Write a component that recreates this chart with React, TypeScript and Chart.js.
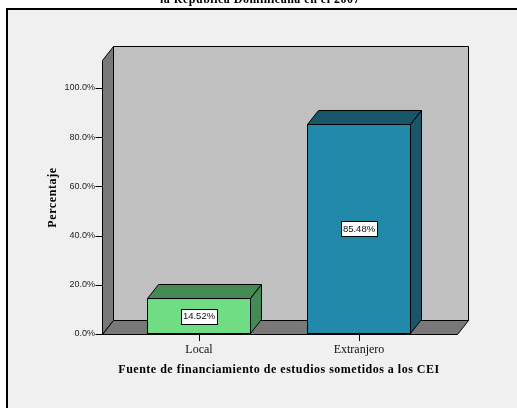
import { useEffect, useRef } from 'react';
import { Chart, registerables } from 'chart.js';

Chart.register(...registerables);

const categories = ['Local', 'Extranjero'];
const percentages = [14.52, 85.48];
const frontColors = ['#70dc84', '#2389ab'];
const darkColors = ['#448a54', '#19566a'];
const yTicks = [0, 20, 40, 60, 80, 100];
const topTitle = 'la República Dominicana en el 2007';
const xTitle = 'Fuente de financiamiento de estudios sometidos a los CEI';
const yTitle = 'Percentaje';

const WALL_MAX = 111.4;
const DX = 11;
const DY = 14;

function poly(ctx: CanvasRenderingContext2D, pts: number[][], fill: string) {
  ctx.beginPath();
  ctx.moveTo(pts[0][0], pts[0][1]);
  for (let i = 1; i < pts.length; i++) ctx.lineTo(pts[i][0], pts[i][1]);
  ctx.closePath();
  ctx.fillStyle = fill;
  ctx.fill();
  ctx.strokeStyle = '#000';
  ctx.lineWidth = 1;
  ctx.stroke();
}

const spssPlugin = {
  id: 'spss3d',
  beforeDraw(chart: any) {
    const { ctx, chartArea: a, scales } = chart;
    const y = scales.y;
    ctx.save();
    ctx.fillStyle = '#ffffff';
    ctx.fillRect(0, 0, chart.width, chart.height);
    // cut-off title
    ctx.fillStyle = '#000';
    ctx.font = 'bold 12px "Liberation Serif"';
    ctx.textAlign = 'center';
    ctx.textBaseline = 'alphabetic';
    (ctx as any).letterSpacing = '0.5px';
    ctx.fillText(topTitle, 260, 3);
    (ctx as any).letterSpacing = '0px';
    // outer box
    ctx.fillStyle = '#f0f0f0';
    ctx.fillRect(6, 8, 700, 700);
    ctx.fillStyle = '#000';
    ctx.fillRect(6, 8, 700, 2);
    ctx.fillRect(6, 8, 2, 700);

    const fl = a.left - 17 + 0.5;
    const fr = a.right + 18 + 0.5;
    const y0 = Math.round(y.getPixelForValue(0)) + 0.5;
    const yt = Math.round(y.getPixelForValue(WALL_MAX)) + 0.5;
    // back wall
    poly(ctx, [[fl + DX, yt - DY], [fr + DX, yt - DY], [fr + DX, y0 - DY], [fl + DX, y0 - DY]], '#c0c0c0');
    // left wall
    poly(ctx, [[fl, yt], [fl + DX, yt - DY], [fl + DX, y0 - DY], [fl, y0]], '#787878');
    // floor
    poly(ctx, [[fl, y0], [fl + DX, y0 - DY], [fr + DX, y0 - DY], [fr, y0]], '#787878');

    // y tick marks
    ctx.strokeStyle = '#000';
    ctx.lineWidth = 1;
    for (const v of yTicks) {
      const py = Math.round(y.getPixelForValue(v)) + 0.5;
      ctx.beginPath();
      ctx.moveTo(fl - 7, py);
      ctx.lineTo(fl, py);
      ctx.stroke();
    }

    // y title
    ctx.save();
    ctx.translate(53, (yt + y0) / 2);
    ctx.rotate(-Math.PI / 2);
    ctx.fillStyle = '#000';
    ctx.font = 'bold 12px "Liberation Serif"';
    ctx.textAlign = 'center';
    ctx.textBaseline = 'middle';
    (ctx as any).letterSpacing = '0.6px';
    ctx.fillText(yTitle, 0, 0);
    ctx.restore();

    // x title
    ctx.fillStyle = '#000';
    ctx.font = 'bold 12px "Liberation Serif"';
    ctx.textAlign = 'center';
    ctx.textBaseline = 'middle';
    (ctx as any).letterSpacing = '0.5px';
    ctx.fillText(xTitle, (a.left + a.right) / 2, 370);
    (ctx as any).letterSpacing = '0px';
    ctx.restore();
  },
  afterDatasetsDraw(chart: any) {
    const { ctx } = chart;
    const meta = chart.getDatasetMeta(0);
    ctx.save();
    meta.data.forEach((el: any, i: number) => {
      const { x, y, base, width } = el.getProps(['x', 'y', 'base', 'width'], true);
      const l = Math.round(x - width / 2) + 0.5;
      const r = Math.round(x + width / 2) - 0.5;
      const t = Math.round(y) + 0.5;
      const b = Math.round(base) - 0.5;
      // top face
      poly(ctx, [[l, t], [l + DX, t - DY], [r + DX, t - DY], [r, t]], darkColors[i]);
      // side face
      poly(ctx, [[r, t], [r + DX, t - DY], [r + DX, b - DY], [r, b]], darkColors[i]);
      // label
      const txt = percentages[i].toFixed(2) + '%';
      ctx.font = '9.5px "Liberation Sans"';
      const tw = ctx.measureText(txt).width;
      const bw = Math.round(tw + 4);
      const bh = 15;
      const cx = x;
      const cy = (y + base) / 2;
      const bx = Math.round(cx - bw / 2) + 0.5;
      const by = Math.round(cy - bh / 2) + 0.5;
      ctx.fillStyle = '#fff';
      ctx.fillRect(bx, by, bw, bh);
      ctx.strokeStyle = '#000';
      ctx.lineWidth = 1;
      ctx.strokeRect(bx, by, bw, bh);
      ctx.fillStyle = '#111';
      ctx.textAlign = 'center';
      ctx.textBaseline = 'middle';
      ctx.fillText(txt, cx, cy + 0.5);
    });
    ctx.restore();
  },
};

export default function App() {
  const ref = useRef<HTMLCanvasElement | null>(null);
  useEffect(() => {
    if (!ref.current) return;
    const chart = new Chart(ref.current, {
      type: 'bar',
      data: {
        labels: categories,
        datasets: [
          {
            data: percentages,
            backgroundColor: frontColors,
            borderColor: '#000',
            borderWidth: 1,
            borderSkipped: false,
            barPercentage: 0.65,
            categoryPercentage: 1,
          },
        ],
      },
      options: {
        animation: false,
        responsive: false,
        devicePixelRatio: 1,
        layout: { padding: { left: 0, top: 88, right: 78, bottom: 0 } },
        plugins: {
          legend: { display: false },
          tooltip: { enabled: false },
          title: { display: false },
        },
        scales: {
          x: {
            type: 'category',
            offset: true,
            afterFit: (s: any) => {
              s.height = 74;
            },
            grid: {
              display: true,
              drawOnChartArea: false,
              drawTicks: true,
              tickLength: 7,
              color: '#000',
              lineWidth: 1,
              offset: false,
            },
            border: { display: false },
            ticks: {
              color: '#111',
              padding: 2,
              font: { family: '"Liberation Serif"', size: 12 },
            },
          },
          y: {
            min: 0,
            max: 100,
            afterFit: (s: any) => {
              s.width = 119;
            },
            afterBuildTicks: (s: any) => {
              s.ticks = yTicks.map((v) => ({ value: v }));
            },
            grid: { display: false, drawTicks: false },
            border: { display: false },
            ticks: {
              padding: 24,
              color: '#222',
              font: { family: '"Liberation Sans"', size: 9 },
              callback: (v: any) => Number(v).toFixed(1) + '%',
            },
          },
        },
      },
      plugins: [spssPlugin],
    } as any);
    return () => chart.destroy();
  }, []);
  return (
    <div style={{ position: 'fixed', left: 0, top: 0, width: 517, height: 408 }}>
      <canvas ref={ref} width={517} height={408} style={{ display: 'block', width: 517, height: 408 }} />
    </div>
  );
}
